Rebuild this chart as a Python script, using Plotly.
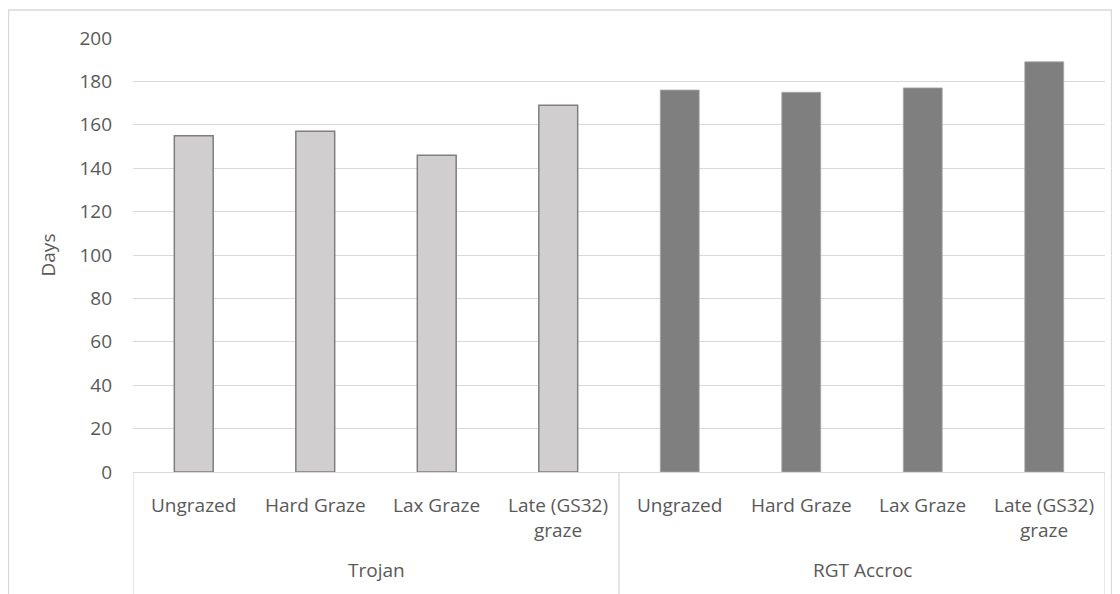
import plotly.graph_objects as go

# data
groups = ["Trojan", "RGT Accroc"]
treatments = ["Ungrazed", "Hard Graze", "Lax Graze", "Late (GS32) graze"]
tick_labels = ["Ungrazed", "Hard Graze", "Lax Graze", "Late (GS32)<br>graze"]
trojan_days = [155, 157, 146, 169]
accroc_days = [176, 175, 177, 189]

# the page puts the figure 8px in from the top-left corner
OFF = 8
W, H = 1105, 594
L, R, T, B = 133 - OFF, 1112 - OFF - (1105 - OFF), 38 - OFF, 0
PLOT_BOTTOM = 472 - OFF
B = H - PLOT_BOTTOM
R = W - (1105 - OFF)
TXT = "#595959"
GRID = "#D9D9D9"
FONT = "Open Sans, Segoe UI, sans-serif"
FS = 19

cats = [f"{g}|{t}" for g in groups for t in treatments]

fig = go.Figure()
fig.add_trace(go.Bar(
    x=cats[:4], y=trojan_days, name=groups[0], width=0.32,
    marker=dict(color="#D0CECE", line=dict(color="#7F7F7F", width=1.5)),
))
fig.add_trace(go.Bar(
    x=cats[4:], y=accroc_days, name=groups[1], width=0.32,
    marker=dict(color="#7F7F7F", line=dict(color="#A6A6A6", width=0.8)),
))

pw = W - L - R
ph = H - T - B


# reference-pixel -> paper coordinates
def px_x(v):
    return (v - OFF - L) / pw


def px_y(v):
    return (H - B - (v - OFF)) / ph


shapes = []
# outer chart frame
shapes.append(dict(type="rect", xref="paper", yref="paper",
                   x0=px_x(8.5), x1=px_x(1111.5), y0=px_y(620), y1=px_y(10),
                   line=dict(color=GRID, width=1.3), fillcolor="rgba(0,0,0,0)"))
# category dividers
for xv in [-0.5, 3.5, 7.5]:
    shapes.append(dict(type="line", xref="x", yref="paper", x0=xv, x1=xv,
                       y0=0, y1=px_y(620), line=dict(color=GRID, width=1.3)))

annotations = []
for c, lab in zip(cats, tick_labels * 2):
    annotations.append(dict(x=c, xref="x", y=px_y(490), yref="paper", text=lab,
                            showarrow=False, yanchor="top", align="center",
                            font=dict(size=FS, color=TXT, family=FONT)))
for i, g in enumerate(groups):
    annotations.append(dict(x=1.5 + 4 * i, xref="x", y=px_y(570), yref="paper", text=g,
                            showarrow=False, yanchor="middle",
                            font=dict(size=FS, color=TXT, family=FONT)))

fig.update_layout(
    width=W, height=H,
    margin=dict(l=L, r=R, t=T, b=B),
    plot_bgcolor="white", paper_bgcolor="white",
    barmode="overlay", showlegend=False,
    font=dict(family=FONT, size=FS, color=TXT),
    shapes=shapes, annotations=annotations,
)
fig.update_xaxes(range=[-0.5, 7.5], showticklabels=False, showgrid=False,
                 showline=True, linecolor=GRID, linewidth=1.3,
                 categoryorder="array", categoryarray=cats)
fig.update_yaxes(range=[0, 200], dtick=20, showgrid=True, gridcolor=GRID, gridwidth=1.3,
                 zeroline=False, ticks="", ticklabelstandoff=20,
                 title=dict(text="Days", standoff=18, font=dict(size=FS, color=TXT)),
                 tickfont=dict(size=FS, color=TXT))

fig.write_html("out.html")
